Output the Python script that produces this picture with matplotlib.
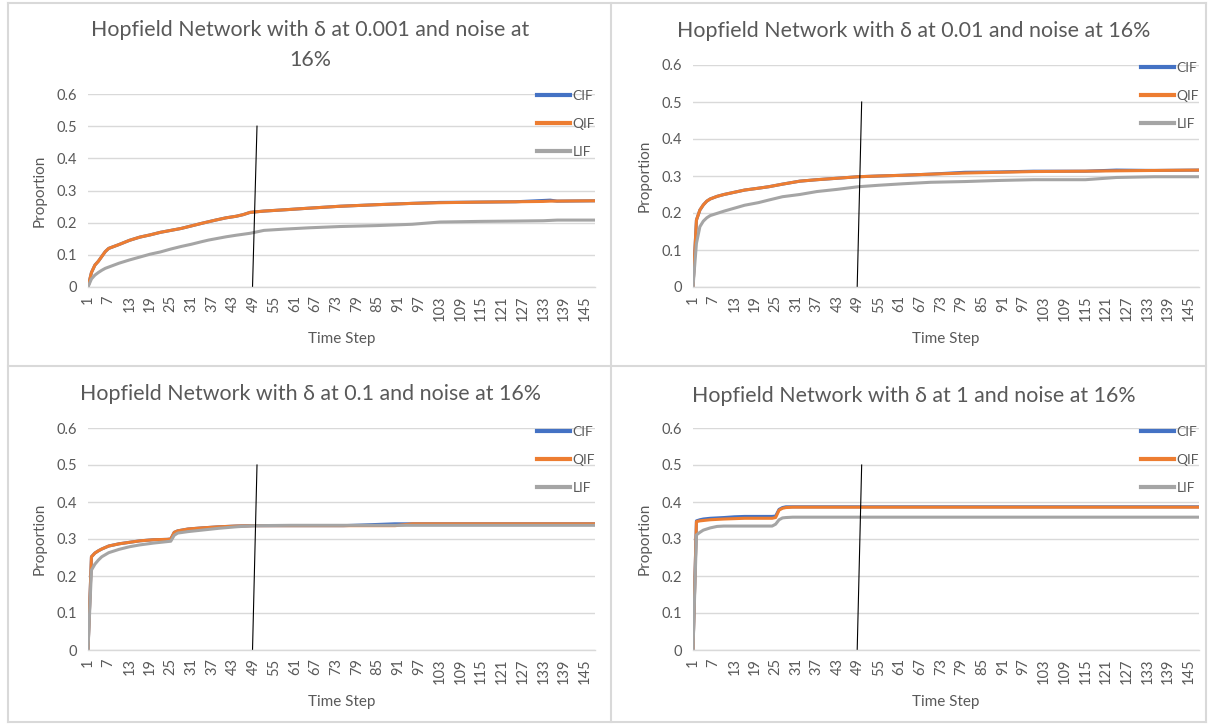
import matplotlib.pyplot as plt
from matplotlib.lines import Line2D

plt.rcParams['font.family'] = ['Lato', 'DejaVu Sans']

# ---- data (time step readings) ----
x_ticks = list(range(1, 149, 6))
n_steps = 148

tl_steps = [1, 2, 3, 4, 5, 6, 7, 8, 10, 13, 16, 19, 22, 25, 28, 31, 34, 36, 38, 41, 44, 46, 48,
            52, 58, 65, 74, 85, 95, 103, 115, 125, 133, 135, 137, 148]
tl_qif = [0, 0.045, 0.068, 0.080, 0.095, 0.110, 0.120, 0.124, 0.132, 0.145, 0.155, 0.162, 0.170,
          0.176, 0.182, 0.190, 0.198, 0.203, 0.208, 0.215, 0.220, 0.225, 0.232, 0.236, 0.240,
          0.245, 0.251, 0.256, 0.260, 0.262, 0.264, 0.265, 0.266, 0.267, 0.267, 0.268]
tl_cif = [0, 0.045, 0.068, 0.080, 0.095, 0.110, 0.120, 0.124, 0.132, 0.145, 0.155, 0.162, 0.170,
          0.176, 0.182, 0.190, 0.198, 0.203, 0.208, 0.215, 0.220, 0.225, 0.232, 0.236, 0.240,
          0.245, 0.251, 0.256, 0.260, 0.263, 0.264, 0.265, 0.269, 0.270, 0.267, 0.268]
tl_lif = [0, 0.025, 0.037, 0.045, 0.052, 0.058, 0.062, 0.066, 0.074, 0.084, 0.093, 0.102, 0.109,
          0.118, 0.126, 0.133, 0.141, 0.146, 0.150, 0.156, 0.161, 0.164, 0.167, 0.176, 0.180,
          0.184, 0.188, 0.191, 0.195, 0.202, 0.204, 0.205, 0.206, 0.207, 0.208, 0.208]

tr_steps = [1, 2, 3, 4, 5, 6, 8, 10, 13, 16, 20, 23, 27, 32, 37, 43, 49, 55, 62, 70, 80, 90,
            100, 115, 124, 135, 148]
tr_qif = [0, 0.181, 0.208, 0.222, 0.232, 0.238, 0.245, 0.250, 0.256, 0.262, 0.267, 0.271, 0.278,
          0.286, 0.290, 0.294, 0.298, 0.300, 0.302, 0.305, 0.308, 0.310, 0.312, 0.313, 0.314,
          0.315, 0.316]
tr_cif = [0, 0.181, 0.208, 0.222, 0.232, 0.238, 0.245, 0.250, 0.256, 0.262, 0.267, 0.271, 0.278,
          0.286, 0.290, 0.294, 0.298, 0.300, 0.302, 0.305, 0.310, 0.311, 0.313, 0.313, 0.316,
          0.315, 0.316]
tr_lif = [0, 0.118, 0.163, 0.178, 0.187, 0.193, 0.199, 0.205, 0.213, 0.221, 0.228, 0.235, 0.244,
          0.250, 0.258, 0.264, 0.271, 0.275, 0.279, 0.283, 0.285, 0.288, 0.290, 0.290, 0.296,
          0.298, 0.298]

bl_steps = [1, 2, 3, 4, 5, 7, 10, 13, 16, 20, 24, 25, 26, 27, 30, 34, 39, 44, 49, 60, 75, 90,
            95, 110, 130, 148]
bl_qif = [0, 0.252, 0.262, 0.268, 0.273, 0.281, 0.287, 0.291, 0.295, 0.298, 0.299, 0.300, 0.318,
          0.322, 0.327, 0.330, 0.333, 0.335, 0.336, 0.336, 0.336, 0.336, 0.341, 0.341, 0.341, 0.341]
bl_cif = [0, 0.252, 0.262, 0.268, 0.273, 0.281, 0.287, 0.291, 0.295, 0.298, 0.299, 0.300, 0.318,
          0.322, 0.327, 0.330, 0.333, 0.335, 0.336, 0.336, 0.336, 0.341, 0.341, 0.341, 0.341, 0.341]
bl_lif = [0, 0.216, 0.232, 0.243, 0.252, 0.263, 0.272, 0.279, 0.284, 0.289, 0.293, 0.294, 0.310,
          0.316, 0.320, 0.324, 0.329, 0.333, 0.336, 0.337, 0.337, 0.337, 0.337, 0.337, 0.337, 0.337]

br_steps = [1, 2, 3, 4, 6, 8, 10, 13, 16, 20, 24, 25, 26, 27, 28, 30, 40, 60, 100, 148]
br_qif = [0, 0.347, 0.349, 0.350, 0.352, 0.353, 0.354, 0.355, 0.356, 0.356, 0.356, 0.358, 0.378,
          0.383, 0.385, 0.386, 0.386, 0.386, 0.386, 0.386]
br_cif = [0, 0.349, 0.352, 0.354, 0.356, 0.357, 0.358, 0.360, 0.361, 0.361, 0.361, 0.362, 0.380,
          0.385, 0.387, 0.387, 0.387, 0.387, 0.387, 0.387]
br_lif = [0, 0.311, 0.318, 0.324, 0.330, 0.334, 0.335, 0.335, 0.335, 0.335, 0.335, 0.340, 0.352,
          0.357, 0.358, 0.359, 0.359, 0.359, 0.359, 0.359]

marker_x = [48.7, 50.0]
marker_y = [0, 0.5]

CIF_C, QIF_C, LIF_C = '#4472C4', '#ED7D31', '#A5A5A5'
TXT = '#595959'
GRID = '#D9D9D9'
W, H = 1208, 725

fig = plt.figure(figsize=(W / 100, H / 100), dpi=100)


def px(x, y):
    return x / W, 1 - y / H


def panel(box, title, title_xy, steps, cif, qif, lif, leg_xy):
    x0, y0, x1, y1 = box
    ax = fig.add_axes([x0 / W, 1 - y1 / H, (x1 - x0) / W, (y1 - y0) / H])
    ax.plot(steps, cif, color=CIF_C, lw=2.2, solid_joinstyle='round')
    ax.plot(steps, qif, color=QIF_C, lw=2.2, solid_joinstyle='round')
    ax.plot(steps, lif, color=LIF_C, lw=2.2, solid_joinstyle='round')
    ax.plot(marker_x, marker_y, color='black', lw=0.8)
    ax.set_xlim(1, n_steps)
    ax.set_ylim(0, 0.6)
    ax.set_yticks([0, 0.1, 0.2, 0.3, 0.4, 0.5, 0.6])
    ax.set_yticklabels(['0', '0.1', '0.2', '0.3', '0.4', '0.5', '0.6'])
    ax.set_xticks(x_ticks)
    ax.set_xticklabels([str(t) for t in x_ticks], rotation=90)
    ax.tick_params(axis='both', length=0, labelsize=10.5, labelcolor=TXT)
    ax.tick_params(axis='y', pad=8)
    ax.tick_params(axis='x', pad=6)
    ax.grid(axis='y', color=GRID, lw=1)
    ax.set_axisbelow(True)
    for s in ['top', 'right', 'left']:
        ax.spines[s].set_visible(False)
    ax.spines['bottom'].set_color(GRID)
    ax.spines['bottom'].set_linewidth(1)
    ax.set_xlabel('Time Step', fontsize=11, color=TXT, labelpad=8)
    ax.set_ylabel('Proportion', fontsize=11, color=TXT, labelpad=7)
    fig.text(*px(*title_xy), title, ha='center', va='center', fontsize=15.4,
             color=TXT, linespacing=1.62)
    handles = [Line2D([], [], color=c, lw=3) for c in (CIF_C, QIF_C, LIF_C)]
    fig.legend(handles, ['CIF', 'QIF', 'LIF'], loc='upper left',
               bbox_to_anchor=px(*leg_xy), frameon=False, fontsize=10,
               labelcolor=TXT, handlelength=2.4, handletextpad=0.15,
               labelspacing=1.15, borderpad=0, borderaxespad=0)
    return ax


panel((88, 94, 595, 287), 'Hopfield Network with δ at 0.001 and noise at\n16%', (310, 45),
      tl_steps, tl_cif, tl_qif, tl_lif, (537, 90))
panel((693, 65, 1199, 287), 'Hopfield Network with δ at 0.01 and noise at 16%', (914, 31),
      tr_steps, tr_cif, tr_qif, tr_lif, (1141, 62))
panel((88, 428, 595, 650), 'Hopfield Network with δ at 0.1 and noise at 16%', (310, 394),
      bl_steps, bl_cif, bl_qif, bl_lif, (537, 426))
panel((693, 428, 1199, 650), 'Hopfield Network with δ at 1 and noise at 16%', (914, 396),
      br_steps, br_cif, br_qif, br_lif, (1141, 426))

# panel borders
for xs, ys in [([8, 1206], [3, 3]), ([8, 1206], [366, 366]), ([8, 1206], [722, 722]),
               ([8, 8], [3, 722]), ([611, 611], [3, 722]), ([1206, 1206], [3, 722])]:
    fig.add_artist(Line2D([x / W for x in xs], [1 - y / H for y in ys], color=GRID, lw=1.5))

fig.savefig('out.png', dpi=100)
